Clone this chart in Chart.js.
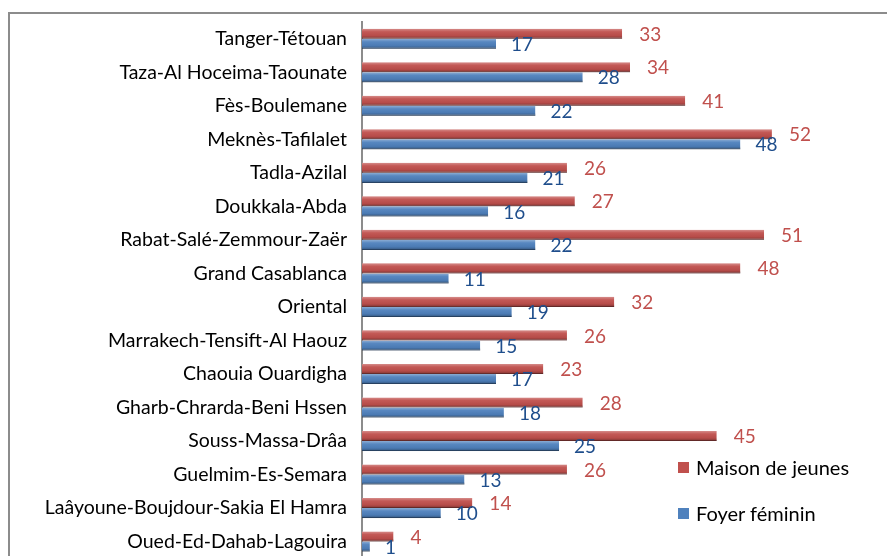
<!DOCTYPE html>
<html>
<head>
<meta charset="utf-8">
<script src="https://cdn.jsdelivr.net/npm/chart.js@4.4.1/dist/chart.umd.min.js"></script>
<style>
    html, body { margin: 0; padding: 0; width: 887px; height: 556px; overflow: hidden; background: #fff; }
    #frame { position: absolute; left: 8px; top: 12px; width: 900px; height: 600px; border: 2px solid #8c8c8c; box-sizing: border-box; }
    #wrap { position: absolute; left: 0; top: 0; width: 887px; height: 577px; }
    #legend { position: absolute; left: 678px; top: 454px; font: 20px Lato, sans-serif; color: #000; }
    #legend .item { display: flex; align-items: center; height: 26px; margin-bottom: 20px; }
    #legend .swatch { width: 11px; height: 11px; margin-right: 7px; }
</style>
</head>
<body>
<div id="frame"></div>
<div id="wrap"><canvas id="regions"></canvas></div>
<div id="legend"></div>
<script>
const regions = [
    'Tanger-Tétouan',
    'Taza-Al Hoceima-Taounate',
    'Fès-Boulemane',
    'Meknès-Tafilalet',
    'Tadla-Azilal',
    'Doukkala-Abda',
    'Rabat-Salé-Zemmour-Zaër',
    'Grand Casablanca',
    'Oriental',
    'Marrakech-Tensift-Al Haouz',
    'Chaouia Ouardigha',
    'Gharb-Chrarda-Beni Hssen',
    'Souss-Massa-Drâa',
    'Guelmim-Es-Semara',
    'Laâyoune-Boujdour-Sakia El Hamra',
    'Oued-Ed-Dahab-Lagouira'
];
const maisonDeJeunes = [33, 34, 41, 52, 26, 27, 51, 48, 32, 26, 23, 28, 45, 26, 14, 4];
const foyerFeminin = [17, 28, 22, 48, 21, 16, 22, 11, 19, 15, 17, 18, 25, 13, 10, 1];

const seriesNames = ['Maison de jeunes', 'Foyer féminin'];
const barColors = ['#c0504d', '#4f81bd'];
const edgeColors = ['#8c3a38', '#385d8a'];
const labelColors = ['#c0504d', '#1f4e8c'];

// light top edge, dark bottom edge on every bar
const barShading = {
    id: 'barShading',
    afterDatasetsDraw(chart) {
        const ctx = chart.ctx;
        ctx.save();
        chart.data.datasets.forEach((ds, i) => {
            chart.getDatasetMeta(i).data.forEach(bar => {
                const p = bar.getProps(['x', 'y', 'base', 'height'], true);
                const top = p.y - p.height / 2;
                const g = ctx.createLinearGradient(0, top, 0, top + p.height);
                g.addColorStop(0, 'rgba(255,255,255,0.35)');
                g.addColorStop(0.3, 'rgba(255,255,255,0.05)');
                g.addColorStop(0.7, 'rgba(0,0,0,0.05)');
                g.addColorStop(1, 'rgba(0,0,0,0.35)');
                ctx.fillStyle = g;
                ctx.fillRect(p.base, top, p.x - p.base, p.height);
            });
        });
        ctx.restore();
    }
};

const valueLabels = {
    id: 'valueLabels',
    afterDatasetsDraw(chart) {
        const ctx = chart.ctx;
        const gaps = [17, 15];
        ctx.save();
        ctx.font = '19px Lato, sans-serif';
        ctx.textBaseline = 'middle';
        chart.data.datasets.forEach((ds, i) => {
            ctx.fillStyle = labelColors[i];
            chart.getDatasetMeta(i).data.forEach((bar, j) => {
                ctx.fillText(ds.data[j], bar.x + gaps[i], bar.y + 1);
            });
        });
        ctx.restore();
    }
};

function renderLegend() {
    const legend = document.getElementById('legend');
    seriesNames.forEach((name, i) => {
        const item = document.createElement('div');
        item.className = 'item';
        item.innerHTML = '<span class="swatch" style="background:' + barColors[i] + '"></span>' + name;
        legend.appendChild(item);
    });
}

function renderChart() {
    new Chart(document.getElementById('regions'), {
        type: 'bar',
        data: {
            labels: regions,
            datasets: [
                {
                    label: seriesNames[0],
                    data: maisonDeJeunes,
                    backgroundColor: barColors[0],
                    borderColor: edgeColors[0],
                    borderWidth: { bottom: 1 },
                    categoryPercentage: 0.6,
                    barPercentage: 1.0
                },
                {
                    label: seriesNames[1],
                    data: foyerFeminin,
                    backgroundColor: barColors[1],
                    borderColor: edgeColors[1],
                    borderWidth: { bottom: 1 },
                    categoryPercentage: 0.6,
                    barPercentage: 1.0
                }
            ]
        },
        options: {
            indexAxis: 'y',
            responsive: true,
            maintainAspectRatio: false,
            animation: false,
            layout: { padding: { top: 22, right: 52, bottom: 0, left: 0 } },
            plugins: {
                legend: { display: false },
                tooltip: { enabled: false }
            },
            scales: {
                x: {
                    display: false,
                    min: 0,
                    max: 60
                },
                y: {
                    afterFit(scale) { scale.width = 362; },
                    grid: { display: false },
                    border: { color: '#8c8c8c', width: 2 },
                    ticks: {
                        padding: 7,
                        color: '#000',
                        font: { family: 'Lato', size: 19.5 }
                    }
                }
            }
        },
        plugins: [barShading, valueLabels]
    });
}

renderLegend();
renderChart();
</script>
</body>
</html>
